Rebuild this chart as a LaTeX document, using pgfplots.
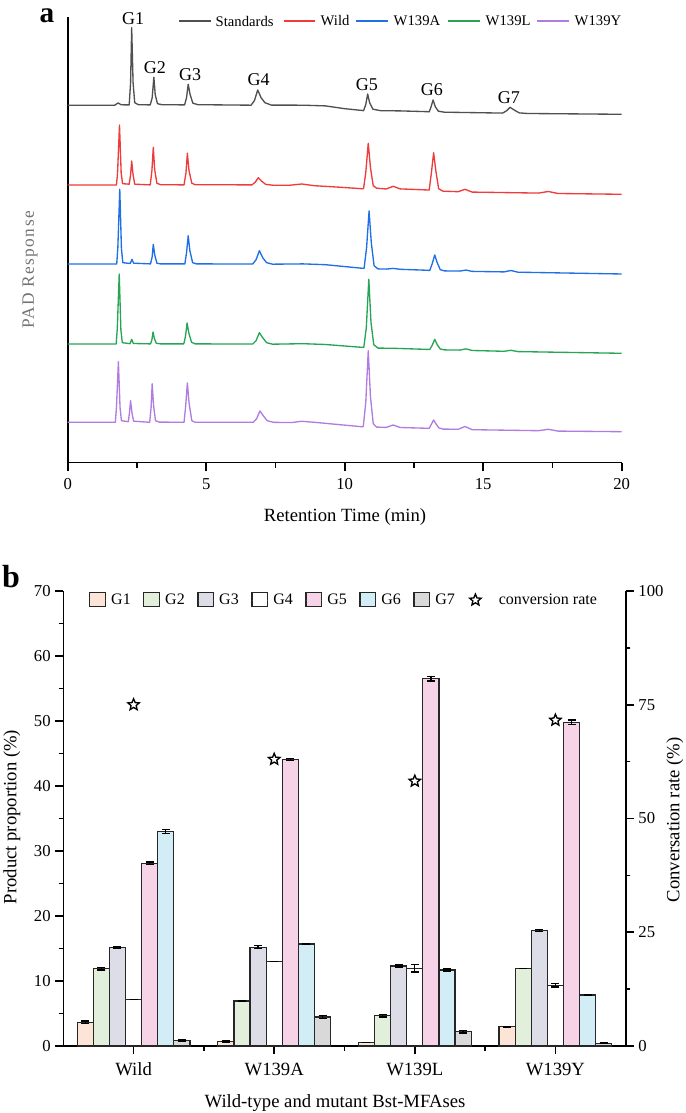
\documentclass[border=0pt]{standalone}
\usepackage{fontspec}
\setmainfont{Liberation Serif}
\usepackage{pgfplots}
\pgfplotsset{compat=1.18}

\definecolor{cstd}{HTML}{505050}
\definecolor{cwild}{HTML}{EE3B3B}
\definecolor{cwa}{HTML}{1F6FE5}
\definecolor{cwl}{HTML}{27A555}
\definecolor{cwy}{HTML}{B07CE0}
\definecolor{g1}{HTML}{FCE4D6}
\definecolor{g2}{HTML}{E2EFDA}
\definecolor{g3}{HTML}{DDDDE8}
\definecolor{g4}{HTML}{FFFFFF}
\definecolor{g5}{HTML}{F6D3E6}
\definecolor{g6}{HTML}{D3EDF7}
\definecolor{g7}{HTML}{D9D9D9}

% outlined five-pointed star
\pgfdeclareplotmark{ostar}{%
  \pgfpathmoveto{\pgfpointpolar{90}{\pgfplotmarksize}}%
  \pgfpathlineto{\pgfpointpolar{126}{0.45\pgfplotmarksize}}%
  \pgfpathlineto{\pgfpointpolar{162}{\pgfplotmarksize}}%
  \pgfpathlineto{\pgfpointpolar{198}{0.45\pgfplotmarksize}}%
  \pgfpathlineto{\pgfpointpolar{234}{\pgfplotmarksize}}%
  \pgfpathlineto{\pgfpointpolar{270}{0.45\pgfplotmarksize}}%
  \pgfpathlineto{\pgfpointpolar{306}{\pgfplotmarksize}}%
  \pgfpathlineto{\pgfpointpolar{342}{0.45\pgfplotmarksize}}%
  \pgfpathlineto{\pgfpointpolar{18}{\pgfplotmarksize}}%
  \pgfpathlineto{\pgfpointpolar{54}{0.45\pgfplotmarksize}}%
  \pgfpathclose
  \pgfusepathqstroke}

\pgfplotsset{
  boxleg/.style={legend image code/.code={\draw[##1] (0pt,-5pt) rectangle (11.5pt,5.5pt); \path[draw=none] (0pt,0pt) -- (14pt,0pt);}},
  starleg/.style={legend image code/.code={\draw[##1] plot coordinates {(6pt,0pt)}; \path[draw=none] (0pt,0pt) -- (21.5pt,0pt);}},
  gbar/.style={ybar, bar width=0.1146, bar shift=0pt, draw=black!85, line width=0.9pt, forget plot,
    error bars/y dir=both, error bars/y explicit,
    error bars/error bar style={line width=1pt,black},
    error bars/error mark options={rotate=90, mark size=3pt, line width=1pt, black}},
  trace/.style={line width=1pt, line join=round, mark=none, forget plot},
}

\begin{document}
\begin{tikzpicture}
\path[use as bounding box] (0pt,0pt) rectangle (513.75pt,834.75pt);

% ---------------- panel a ----------------
\begin{axis}[
  at={(50.775pt,487.725pt)}, anchor=south west,
  width=415.5pt, height=334.275pt, scale only axis,
  xmin=0, xmax=20, ymin=0, ymax=445.7,
  axis lines*=left,
  axis line style={-, line width=1.2pt, black},
  ytick=\empty,
  xtick={0,5,...,20}, minor xtick={2.5,7.5,12.5,17.5},
  tick align=outside, tick pos=left,
  major tick length=6.5pt, minor tick length=3.75pt,
  every tick/.style={line width=1.2pt, black},
  tick label style={font=\fontsize{12.5}{14}\selectfont},
  xticklabel style={yshift=-2pt},
  /pgf/number format/assume math mode=true,
  clip=false,
]
\addplot[trace, cstd] coordinates {
(0,357.5) (1.70,357.5) (1.82,359.8) (1.92,358) (2.05,357.8)
(2.22,357.8) (2.27,380) (2.31,435) (2.36,380) (2.42,360) (2.55,358)
(2.98,357.8) (3.05,365) (3.11,385.4) (3.16,368) (3.24,359) (3.4,358)
(4.22,357.8) (4.29,365) (4.35,378.4) (4.42,368) (4.52,359.5) (4.7,358)
(6.62,357.5) (6.74,362) (6.86,372.7) (6.98,365) (7.12,360) (7.35,357.6)
(8.5,357.5) (9.3,356.8) (10.0,354) (10.6,352.3)
(10.68,352) (10.76,358) (10.83,368.7) (10.90,360) (11.02,353.5) (11.3,352)
(12.0,351.8) (13.0,351)
(13.05,350.8) (13.12,356) (13.19,362.7) (13.27,356) (13.38,351.5) (13.6,350.5)
(15.7,349.6) (15.85,352) (15.97,355.4) (16.1,353) (16.3,349.8) (16.6,349.2)
(20,348.4)};
\addplot[trace, cwild] coordinates {
(0,277.7) (1.76,277.7) (1.80,290) (1.87,337.7) (1.93,290) (1.98,279)
(2.22,278.5) (2.27,288) (2.31,301.7) (2.36,288) (2.42,278.5)
(2.98,277.8) (3.04,292) (3.09,315.4) (3.14,293) (3.22,279.5) (3.35,278)
(4.20,277.8) (4.27,290) (4.32,309.4) (4.38,292) (4.48,279.5) (4.6,278)
(6.65,277.8) (6.77,280.5) (6.88,285) (7.0,281.5) (7.15,278.3) (7.4,277.5)
(8.0,277.4) (8.45,278.7) (8.9,277.0) (9.8,275.5) (10.6,274)
(10.68,274) (10.76,290) (10.85,319.4) (10.93,295) (11.03,277) (11.15,274.5)
(11.5,273.7) (11.75,276.4) (12.0,273.8) (13.0,272.7)
(13.05,272.6) (13.13,290) (13.21,310) (13.29,292) (13.39,274) (13.55,271.5)
(14.1,271) (14.34,273.4) (14.6,270.6)
(17.0,269.6) (17.35,271.2) (17.7,269.2) (20,268.4)};
\addplot[trace, cwa] coordinates {
(0,198.7) (1.77,198.7) (1.81,215) (1.88,273.4) (1.94,214) (1.99,200)
(2.26,199.2) (2.32,203.4) (2.38,199.5)
(2.99,198.8) (3.05,206) (3.09,218.4) (3.14,208) (3.22,199.5) (3.35,198.8)
(4.23,198.8) (4.29,210) (4.35,227) (4.41,212) (4.51,200) (4.65,198.8)
(6.68,198.7) (6.80,203) (6.92,212) (7.04,205) (7.18,200) (7.4,198.5)
(8.5,198.8) (9.3,198) (10.6,194.5)
(10.7,194.4) (10.79,215) (10.88,251.7) (10.96,220) (11.06,197) (11.2,193.8)
(11.5,193.6) (11.75,194.3) (12.0,193.4) (13.0,192.4)
(13.07,192.2) (13.16,199) (13.25,207.7) (13.34,200) (13.45,193) (13.6,191.8)
(14.15,191.6) (14.38,192.6) (14.6,191.3)
(15.75,190.8) (16.0,192.2) (16.25,190.5) (20,188.7)};
\addplot[trace, cwl] coordinates {
(0,118.7) (1.75,118.7) (1.79,134) (1.86,188.7) (1.92,133) (1.97,120)
(2.25,119) (2.31,123.4) (2.37,119.2)
(2.99,118.8) (3.04,123) (3.08,130.7) (3.13,124) (3.2,119.4) (3.35,118.8)
(4.19,118.8) (4.25,126) (4.31,139.7) (4.37,130) (4.47,120.5) (4.6,118.8)
(6.68,118.7) (6.80,122) (6.92,130) (7.04,125) (7.18,120) (7.4,118.5)
(8.5,119) (9.3,118.2) (10.6,115.4)
(10.69,115.4) (10.78,135) (10.87,183.4) (10.95,140) (11.05,118) (11.2,114.6)
(11.75,114.4) (13.0,113.3)
(13.07,113.2) (13.16,117.5) (13.25,123.4) (13.34,118) (13.45,113.7) (13.6,112.8)
(14.15,112.6) (14.38,113.8) (14.6,112.2)
(15.75,111.4) (16.0,112.4) (16.25,111.1) (20,109.4)};
\addplot[trace, cwy] coordinates {
(0,40.4) (1.72,40.4) (1.76,55) (1.83,101) (1.89,55) (1.94,42)
(2.19,41) (2.23,50) (2.27,62) (2.32,50) (2.38,41.5)
(2.96,40.4) (3.01,55) (3.05,79) (3.10,57) (3.17,42) (3.3,40.6)
(4.20,40.4) (4.26,57) (4.32,79.7) (4.38,60) (4.48,42) (4.6,40.4)
(6.70,40.4) (6.82,44) (6.94,51.7) (7.06,47) (7.2,42) (7.45,40.3)
(8.1,40.2) (8.45,41.4) (8.9,40.4) (10.6,36)
(10.67,36) (10.76,60) (10.85,112) (10.93,66) (11.03,39) (11.15,35.6)
(11.5,35.3) (11.75,37.7) (12.0,35.2) (13.0,34.4)
(13.05,34.3) (13.13,38.5) (13.21,42.7) (13.29,39) (13.40,34.8) (13.55,33.6)
(14.1,33.4) (14.34,36.2) (14.6,33)
(17.0,32) (17.35,33.4) (17.7,31.6) (20,31)};

\begin{scope}[font=\fontsize{13.5}{15}\selectfont]
\node at (axis cs:2.36,444) {G1};
\node at (axis cs:3.15,394.7) {G2};
\node at (axis cs:4.42,387.7) {G3};
\node at (axis cs:6.89,382.7) {G4};
\node at (axis cs:10.80,377.7) {G5};
\node at (axis cs:13.15,372.7) {G6};
\node at (axis cs:15.93,364.7) {G7};
\end{scope}
\end{axis}

% ---------------- panel b ----------------
\begin{axis}[
  at={(47.475pt,50.25pt)}, anchor=south west,
  width=421.8pt, height=341.25pt, scale only axis,
  xmin=-0.5, xmax=3.5, ymin=0, ymax=70,
  axis lines*=left,
  axis line style={-, line width=1.2pt, black},
  xtick={0,1,2,3}, xticklabels={Wild,W139A,W139L,W139Y},
  minor xtick={0.5,1.5,2.5},
  ytick={0,10,...,70}, minor ytick={5,15,...,65},
  tick align=outside, tick pos=left,
  major tick length=6pt, minor tick length=3.5pt,
  every tick/.style={line width=1.2pt, black},
  tick label style={font=\fontsize{12.5}{14}\selectfont},
  x tick label style={font=\fontsize{14}{16}\selectfont, yshift=-3pt},
  /pgf/number format/assume math mode=true,
  legend columns=8,
  legend style={at={(0.0457,0.98)}, anchor=west, draw=none, fill=none,
    inner sep=0pt, font=\fontsize{12}{14}\selectfont,
    /tikz/every even column/.append style={column sep=7.4pt}},
]
\addlegendimage{boxleg, fill=g1, draw=black!85, line width=0.9pt}
\addlegendentry{G1}
\addlegendimage{boxleg, fill=g2, draw=black!85, line width=0.9pt}
\addlegendentry{G2}
\addlegendimage{boxleg, fill=g3, draw=black!85, line width=0.9pt}
\addlegendentry{G3}
\addlegendimage{boxleg, fill=g4, draw=black!85, line width=0.9pt}
\addlegendentry{G4}
\addlegendimage{boxleg, fill=g5, draw=black!85, line width=0.9pt}
\addlegendentry{G5}
\addlegendimage{boxleg, fill=g6, draw=black!85, line width=0.9pt}
\addlegendentry{G6}
\addlegendimage{boxleg, fill=g7, draw=black!85, line width=0.9pt}
\addlegendentry{G7}
\addlegendimage{starleg, only marks, mark=ostar, mark size=4.5pt, line width=1pt, black}
\addlegendentry{conversion rate}

\addplot[gbar, fill=g1] coordinates {(-0.3438,3.64) +- (0,0.2) (0.6562,0.72) +- (0,0.1) (1.6562,0.5) +- (0,0) (2.6562,2.95) +- (0,0.05)};
\addplot[gbar, fill=g2] coordinates {(-0.2292,11.9) +- (0,0.2) (0.7708,6.92) +- (0,0.1) (1.7708,4.65) +- (0,0.2) (2.7708,11.95) +- (0,0)};
\addplot[gbar, fill=g3] coordinates {(-0.1146,15.2) +- (0,0.1) (0.8854,15.2) +- (0,0.25) (1.8854,12.3) +- (0,0.15) (2.8854,17.75) +- (0,0.15)};
\addplot[gbar, fill=g4] coordinates {(0,7.15) +- (0,0) (1,12.95) +- (0,0) (2,11.95) +- (0,0.55) (3,9.35) +- (0,0.25)};
\addplot[gbar, fill=g5] coordinates {(0.1146,28.1) +- (0,0.2) (1.1146,44.05) +- (0,0.15) (2.1146,56.5) +- (0,0.35) (3.1146,49.8) +- (0,0.35)};
\addplot[gbar, fill=g6] coordinates {(0.2292,33.0) +- (0,0.35) (1.2292,15.7) +- (0,0.1) (2.2292,11.7) +- (0,0.15) (3.2292,7.85) +- (0,0)};
\addplot[gbar, fill=g7] coordinates {(0.3438,0.85) +- (0,0.1) (1.3438,4.45) +- (0,0.2) (2.3438,2.2) +- (0,0.2) (3.3438,0.4) +- (0,0.05)};
\end{axis}

\begin{axis}[
  at={(47.475pt,50.25pt)}, anchor=south west,
  width=421.8pt, height=341.25pt, scale only axis,
  xmin=-0.5, xmax=3.5, ymin=0, ymax=100,
  axis x line=none, axis y line*=right,
  axis line style={-, line width=1.2pt, black},
  ytick={0,25,50,75,100}, minor ytick={12.5,37.5,62.5,87.5},
  tick align=outside,
  major tick length=6pt, minor tick length=3.5pt,
  every tick/.style={line width=1.2pt, black},
  tick label style={font=\fontsize{12.5}{14}\selectfont},
  /pgf/number format/assume math mode=true,
]
\addplot[only marks, mark=ostar, mark size=4.5pt, line width=1pt, black] coordinates {(0,75) (1,63) (2,58.2) (3,71.6)};
\end{axis}

% ---------------- outer texts (pixel grid, y upward) ----------------
\begin{scope}[x=0.75pt, y=0.75pt]
% legend of panel a
\begin{scope}[line width=1.1pt, every node/.style={anchor=west, inner sep=0pt, font=\fontsize{11}{13}\selectfont}]
\draw[cstd]  (179,1092) -- (211,1092); \node at (215,1092) {Standards};
\draw[cwild] (284,1092) -- (315,1092); \node at (320,1092) {Wild};
\draw[cwa]   (356,1092) -- (388,1092); \node at (393,1092) {W139A};
\draw[cwl]   (448,1092) -- (480,1092); \node at (485,1092) {W139L};
\draw[cwy]   (537,1092) -- (569,1092); \node at (574,1092) {W139Y};
\end{scope}
\node[font=\fontsize{22}{22}\selectfont\bfseries] at (47,1097) {a};
\node[font=\fontsize{24}{24}\selectfont\bfseries] at (11,536) {b};
\node[rotate=90, text=black!55, font=\fontsize{13}{15}\selectfont\addfontfeatures{LetterSpace=8}] at (30,843) {PAD Response};
\node[font=\fontsize{14}{16}\selectfont] at (345,596) {Retention Time (min)};
\node[rotate=90, font=\fontsize{14}{16}\selectfont] at (12,296) {Product proportion (\%)};
\node[rotate=90, font=\fontsize{14}{16}\selectfont] at (675,293) {Conversation rate (\%)};
\node[font=\fontsize{14}{16}\selectfont] at (335,10) {Wild-type and mutant Bst-MFAses};
\end{scope}
\end{tikzpicture}
\end{document}
